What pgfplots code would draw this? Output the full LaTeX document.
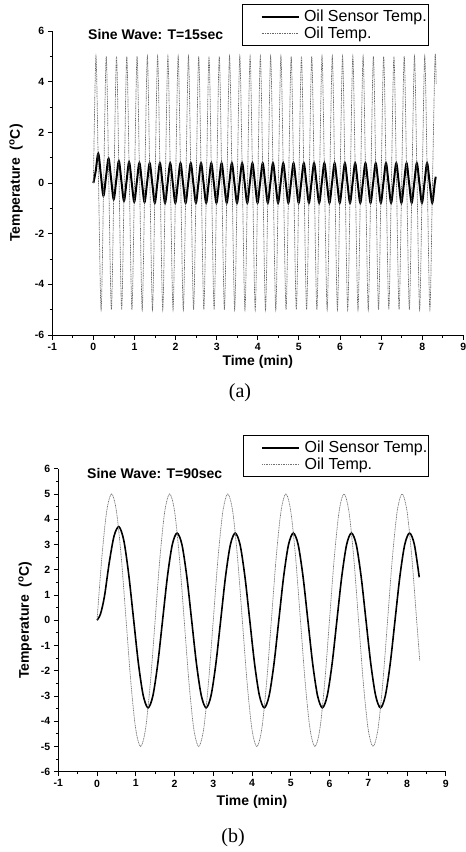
\documentclass[border=0pt]{standalone}
\usepackage{pgfplots}
\pgfplotsset{compat=1.18}
\usepackage{fontspec}
\setmainfont{Liberation Serif}
\newfontfamily\arial{Liberation Sans}
\pgfplotsset{
  common/.style={
    scale only axis,
    anchor=south west,
    xmin=-1, xmax=9, ymin=-6, ymax=6,
    xtick={-1,0,...,9},
    minor x tick num=1,
    minor y tick num=1,
    axis x line*=bottom, axis y line*=left,
    axis line style={line width=1pt},
    tick align=outside,
    major tick length=4.5pt, minor tick length=2.5pt,
    tick style={black, line width=0.9pt},
    /pgf/number format/assume math mode=true,
    tick label style={font=\arial\bfseries\fontsize{10.5}{12}\selectfont},
    xlabel={Time (min)},
    ylabel={Temperature\ \ (\textsuperscript{o}C)},
    legend cell align=left,
    legend style={draw=black, line width=1pt, anchor=north west,
      font=\arial\fontsize{16}{19}\selectfont,
      inner xsep=0pt, inner ysep=4pt,
      nodes={inner xsep=1.5pt, inner ysep=1.8pt}},
    legend image code/.code={\path (0pt,0pt); \draw[##1] (18pt,0pt) -- (55pt,0pt); \path (58pt,0pt);},
  },
  sensor/.style={black, line width=1.6pt, solid, smooth},
  oil/.style={black!55, line width=0.7pt, dash pattern=on 1pt off 0.7pt, smooth},
}
\begin{document}
\begin{tikzpicture}
\path[use as bounding box] (0pt,0pt) rectangle (466pt,-852pt);
% ---------------- panel (a)
\begin{axis}[common,
  at={(52.3pt,-335pt)}, width=411pt, height=304pt,
  ytick={-6,-4,...,6},
  every axis x label/.style={at={(axis description cs:0.5,-0.088)}, anchor=center, font=\arial\bfseries\fontsize{14}{16}\selectfont},
  every axis y label/.style={at={(axis description cs:-0.088,0.5)}, rotate=90, anchor=center, font=\arial\bfseries\fontsize{14}{16}\selectfont},
  legend style={at={(axis description cs:0.4616,1.0888)}},
]
\addplot[sensor, line width=2pt] coordinates {
(0,0)(0.056,0.47)(0.119,1.16)(0.181,0.33)(0.244,-0.5)(0.306,0.23)(0.369,0.96)(0.431,0.16)(0.494,-0.64)(0.556,0.11)(0.619,0.86)(0.681,0.08)(0.744,-0.7)(0.806,0.06)(0.869,0.82)(0.931,0.04)(0.994,-0.74)
(1.056,0.03)(1.119,0.79)(1.181,0.02)(1.244,-0.75)(1.306,0.01)(1.369,0.78)(1.431,0)(1.494,-0.78)(1.556,0)(1.619,0.78)(1.681,0)(1.744,-0.78)(1.806,0)(1.869,0.78)(1.931,0)(1.994,-0.78)
(2.056,0)(2.119,0.78)(2.181,0)(2.244,-0.78)(2.306,0)(2.369,0.78)(2.431,0)(2.494,-0.78)(2.556,0)(2.619,0.78)(2.681,0)(2.744,-0.78)(2.806,0)(2.869,0.78)(2.931,0)(2.994,-0.78)
(3.056,0)(3.119,0.78)(3.181,0)(3.244,-0.78)(3.306,0)(3.369,0.78)(3.431,0)(3.494,-0.78)(3.556,0)(3.619,0.78)(3.681,0)(3.744,-0.78)(3.806,0)(3.869,0.78)(3.931,0)(3.994,-0.78)
(4.056,0)(4.119,0.78)(4.181,0)(4.244,-0.78)(4.306,0)(4.369,0.78)(4.431,0)(4.494,-0.78)(4.556,0)(4.619,0.78)(4.681,0)(4.744,-0.78)(4.806,0)(4.869,0.78)(4.931,0)(4.994,-0.78)
(5.056,0)(5.119,0.78)(5.181,0)(5.244,-0.78)(5.306,0)(5.369,0.78)(5.431,0)(5.494,-0.78)(5.556,0)(5.619,0.78)(5.681,0)(5.744,-0.78)(5.806,0)(5.869,0.78)(5.931,0)(5.994,-0.78)
(6.056,0)(6.119,0.78)(6.181,0)(6.244,-0.78)(6.306,0)(6.369,0.78)(6.431,0)(6.494,-0.78)(6.556,0)(6.619,0.78)(6.681,0)(6.744,-0.78)(6.806,0)(6.869,0.78)(6.931,0)(6.994,-0.78)
(7.056,0)(7.119,0.78)(7.181,0)(7.244,-0.78)(7.306,0)(7.369,0.78)(7.431,0)(7.494,-0.78)(7.556,0)(7.619,0.78)(7.681,0)(7.744,-0.78)(7.806,0)(7.869,0.78)(7.931,0)(7.994,-0.78)
(8.056,0)(8.119,0.78)(8.181,0)(8.244,-0.78)(8.306,0)(8.33,0.25)
};
\addlegendentry{Oil Sensor Temp.}
\addplot[oil, black!60] coordinates {
(0,0)(0.0625,5)(0.125,0)(0.1875,-5)(0.25,0)(0.3125,5)(0.375,0)(0.4375,-5)(0.5,0)(0.5625,5)(0.625,0)(0.6875,-5)(0.75,0)(0.8125,5)(0.875,0)(0.9375,-5)
(1,0)(1.0625,5)(1.125,0)(1.1875,-5)(1.25,0)(1.3125,5)(1.375,0)(1.4375,-5)(1.5,0)(1.5625,5)(1.625,0)(1.6875,-5)(1.75,0)(1.8125,5)(1.875,0)(1.9375,-5)
(2,0)(2.0625,5)(2.125,0)(2.1875,-5)(2.25,0)(2.3125,5)(2.375,0)(2.4375,-5)(2.5,0)(2.5625,5)(2.625,0)(2.6875,-5)(2.75,0)(2.8125,5)(2.875,0)(2.9375,-5)
(3,0)(3.0625,5)(3.125,0)(3.1875,-5)(3.25,0)(3.3125,5)(3.375,0)(3.4375,-5)(3.5,0)(3.5625,5)(3.625,0)(3.6875,-5)(3.75,0)(3.8125,5)(3.875,0)(3.9375,-5)
(4,0)(4.0625,5)(4.125,0)(4.1875,-5)(4.25,0)(4.3125,5)(4.375,0)(4.4375,-5)(4.5,0)(4.5625,5)(4.625,0)(4.6875,-5)(4.75,0)(4.8125,5)(4.875,0)(4.9375,-5)
(5,0)(5.0625,5)(5.125,0)(5.1875,-5)(5.25,0)(5.3125,5)(5.375,0)(5.4375,-5)(5.5,0)(5.5625,5)(5.625,0)(5.6875,-5)(5.75,0)(5.8125,5)(5.875,0)(5.9375,-5)
(6,0)(6.0625,5)(6.125,0)(6.1875,-5)(6.25,0)(6.3125,5)(6.375,0)(6.4375,-5)(6.5,0)(6.5625,5)(6.625,0)(6.6875,-5)(6.75,0)(6.8125,5)(6.875,0)(6.9375,-5)
(7,0)(7.0625,5)(7.125,0)(7.1875,-5)(7.25,0)(7.3125,5)(7.375,0)(7.4375,-5)(7.5,0)(7.5625,5)(7.625,0)(7.6875,-5)(7.75,0)(7.8125,5)(7.875,0)(7.9375,-5)
(8,0)(8.0625,5)(8.125,0)(8.1875,-5)(8.25,0)(8.3125,5)(8.34,3.9)
};
\addlegendentry{Oil Temp.}
\end{axis}
% ---------------- panel (b)
\begin{axis}[common,
  at={(58.3pt,-771.7pt)}, width=387.4pt, height=303pt,
  ytick={-6,-5,...,6},
  every axis x label/.style={at={(axis description cs:0.5,-0.10)}, anchor=center, font=\arial\bfseries\fontsize{14}{16}\selectfont},
  every axis y label/.style={at={(axis description cs:-0.086,0.5)}, rotate=90, anchor=center, font=\arial\bfseries\fontsize{14}{16}\selectfont},
  legend style={at={(axis description cs:0.4768,1.111)}},
]
\addplot[sensor] coordinates {
(0,0)(0.09,0.25)(0.192,0.95)(0.317,2.3)(0.442,3.35)(0.567,3.7)(0.692,3.15)(0.817,1.82)(0.942,0.06)(1.067,-1.7)(1.192,-2.98)(1.317,-3.47)(1.442,-2.99)(1.567,-1.73)
(1.692,0)(1.817,1.73)(1.942,2.99)(2.067,3.45)(2.192,2.99)(2.317,1.73)(2.442,0)(2.567,-1.73)(2.692,-2.99)(2.817,-3.47)(2.942,-2.99)(3.067,-1.73)
(3.192,0)(3.317,1.73)(3.442,2.99)(3.567,3.45)(3.692,2.99)(3.817,1.73)(3.942,0)(4.067,-1.73)(4.192,-2.99)(4.317,-3.47)(4.442,-2.99)(4.567,-1.73)
(4.692,0)(4.817,1.73)(4.942,2.99)(5.067,3.45)(5.192,2.99)(5.317,1.73)(5.442,0)(5.567,-1.73)(5.692,-2.99)(5.817,-3.47)(5.942,-2.99)(6.067,-1.73)
(6.192,0)(6.317,1.73)(6.442,2.99)(6.567,3.45)(6.692,2.99)(6.817,1.73)(6.942,0)(7.067,-1.73)(7.192,-2.99)(7.317,-3.47)(7.442,-2.99)(7.567,-1.73)
(7.692,0)(7.817,1.73)(7.942,2.99)(8.067,3.45)(8.192,2.99)(8.317,1.7)
};
\addlegendentry{Oil Sensor Temp.}
\addplot[oil] coordinates {
(0,0)(0.125,2.5)(0.25,4.33)(0.375,5)(0.5,4.33)(0.625,2.5)(0.75,0)(0.875,-2.5)(1,-4.33)(1.125,-5)(1.25,-4.33)(1.375,-2.5)
(1.5,0)(1.625,2.5)(1.75,4.33)(1.875,5)(2,4.33)(2.125,2.5)(2.25,0)(2.375,-2.5)(2.5,-4.33)(2.625,-5)(2.75,-4.33)(2.875,-2.5)
(3,0)(3.125,2.5)(3.25,4.33)(3.375,5)(3.5,4.33)(3.625,2.5)(3.75,0)(3.875,-2.5)(4,-4.33)(4.125,-5)(4.25,-4.33)(4.375,-2.5)
(4.5,0)(4.625,2.5)(4.75,4.33)(4.875,5)(5,4.33)(5.125,2.5)(5.25,0)(5.375,-2.5)(5.5,-4.33)(5.625,-5)(5.75,-4.33)(5.875,-2.5)
(6,0)(6.125,2.5)(6.25,4.33)(6.375,5)(6.5,4.33)(6.625,2.5)(6.75,0)(6.875,-2.5)(7,-4.33)(7.125,-5)(7.25,-4.33)(7.375,-2.5)
(7.5,0)(7.625,2.5)(7.75,4.33)(7.875,5)(8,4.33)(8.125,2.5)(8.25,0)(8.33,-1.6)
};
\addlegendentry{Oil Temp.}
\end{axis}
\node[anchor=west, inner sep=0pt, font=\arial\bfseries\fontsize{14}{16}\selectfont] at (88pt,-34pt) {Sine Wave: T=15sec};
\node[anchor=west, inner sep=0pt, font=\arial\bfseries\fontsize{14}{16}\selectfont] at (87pt,-473pt) {Sine Wave: T=90sec};
\node[inner sep=0pt, font=\fontsize{20}{24}\selectfont] at (240pt,-393pt) {(a)};
\node[inner sep=0pt, font=\fontsize{20}{24}\selectfont] at (233pt,-838pt) {(b)};
\end{tikzpicture}
\end{document}
